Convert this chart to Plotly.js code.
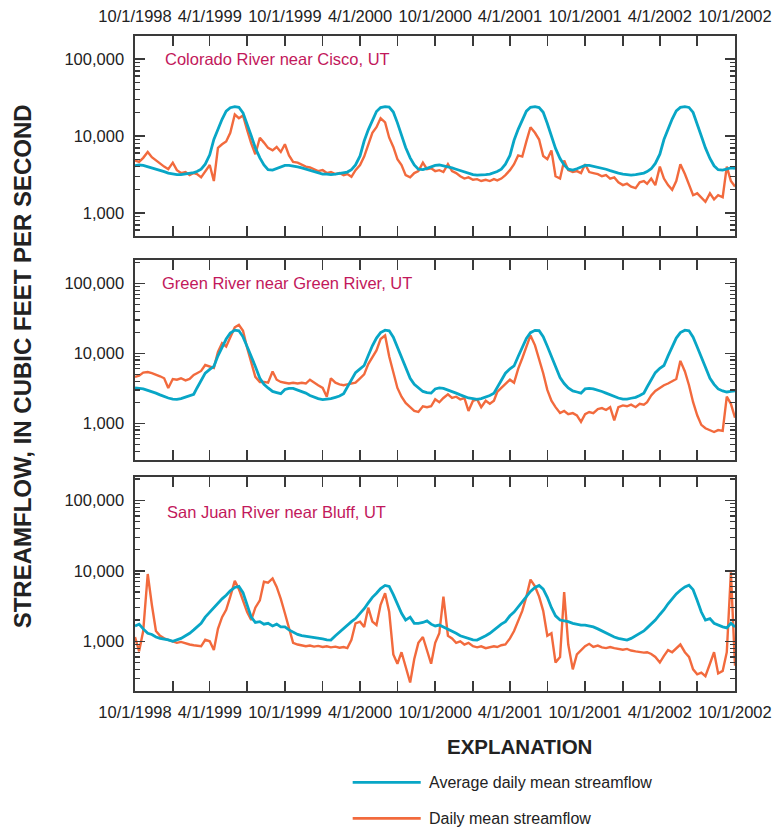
<!DOCTYPE html>
<html>
<head>
<meta charset="utf-8">
<script src="https://cdn.plot.ly/plotly-3.0.1.min.js"></script>
<style>
  html, body { margin: 0; padding: 0; background: #ffffff; }
  #chart { width: 774px; height: 827px; }
</style>
</head>
<body>
<div id="chart"></div>
<script>
// ---- Station names ----
const stationNames = [
  'Colorado River near Cisco, UT',
  'Green River near Green River, UT',
  'San Juan River near Bluff, UT'
];
const seriesNames = ['Average daily mean streamflow', 'Daily mean streamflow'];

// ---- Sample dates: 1st, 11th and 21st of each month, 10/1/1998 to 10/1/2002 ----
const sampleDays = [1, 11, 21];
const startYear = 1998, startMonth = 10, nMonths = 48;

// ---- Axis tick labels ----
const xTickDates = ['1998-10-01','1999-01-01','1999-04-01','1999-07-01','1999-10-01','2000-01-01','2000-04-01','2000-07-01',
  '2000-10-01','2001-01-01','2001-04-01','2001-07-01','2001-10-01','2002-01-01','2002-04-01','2002-07-01','2002-10-01'];
const xTickLabels = ['10/1/1998','','4/1/1999','','10/1/1999','','4/1/2000','','10/1/2000','','4/1/2001','','10/1/2001','','4/1/2002','','10/1/2002'];
const yTickValues = [1000, 10000, 100000];
const yTickLabels = ['1,000', '10,000', '100,000'];

// ---- Colorado River near Cisco (cubic feet per second) ----
const coloradoAverage = [
  4100,4200,4150,4000,3900,3750,3600,3450,3300,3200,3150,3150,3200,3250,3350,3450,3700,4300,5700,9000,12500,16500,21000,23300,24000,23600,20000,14600,10100,7000,5200,4200,3650,3600,3750,3950,
  4150,4150,4100,3980,3850,3700,3550,3400,3300,3200,3200,3150,3200,3250,3300,3400,3650,4200,5500,8600,12000,16200,20800,23400,24000,23700,20500,14800,10200,7100,5200,4200,3700,3650,3800,4000,
  4150,4200,4100,3950,3850,3700,3550,3400,3250,3150,3100,3100,3150,3200,3300,3450,3700,4300,5600,8800,12200,16300,21000,23600,24000,23400,20300,14500,9900,6900,5100,4200,3700,3600,3750,3950,
  4150,4150,4050,3950,3850,3700,3550,3400,3300,3200,3150,3100,3150,3200,3300,3450,3750,4400,5800,9000,12500,16600,21200,23500,24000,23500,20200,14600,10000,7000,5100,4100,3650,3600,3700,3850,
  3800
];
const coloradoDaily = [
  4800,4600,5200,6200,5300,4800,4300,4000,3700,4500,3600,3300,3400,3100,3300,3200,2900,3500,4200,2600,7000,7800,8500,11000,19000,17000,18500,12000,8000,5800,9500,8200,7000,6500,7200,6200,
  7800,5600,4600,4500,4200,4000,3900,3700,3500,3600,3300,3400,3200,3300,3100,3200,2950,3600,4200,5400,7500,11000,13000,17000,15000,9500,7200,5000,4200,3100,2900,3300,3500,4500,3700,3800,
  3500,3600,3400,4300,3500,3300,3000,2800,2900,2700,2750,2600,2700,2600,2750,2650,2800,3100,3600,4300,5600,5400,8500,13000,11000,9000,5500,5000,6500,3000,2800,4800,3600,3400,3500,3300,
  4300,3400,3300,3200,3000,3100,2800,2900,2500,2300,2400,2200,2100,2500,2600,2400,2800,2300,4000,2800,2300,2000,2600,4300,3200,2400,1700,1800,1600,1400,1800,1500,1700,1600,4000,2600,
  2200
];

// ---- Green River near Green River ----
const greenAverage = [
  3200,3150,3100,2950,2850,2700,2550,2400,2300,2220,2200,2250,2350,2450,2600,3200,4000,5200,5900,6500,9200,12500,16000,19500,21400,21000,17200,12500,9200,6500,4400,3600,3200,2850,2750,2650,
  3050,3150,3150,3000,2850,2700,2500,2350,2250,2180,2200,2250,2350,2450,2650,3300,4100,5300,6000,6700,9300,12800,16500,19800,21400,21000,17000,12300,9000,6400,4400,3600,3200,2850,2750,2700,
  3100,3200,3150,3000,2850,2700,2550,2400,2300,2250,2200,2250,2350,2500,2700,3300,4100,5200,6000,6600,9000,12500,16300,19700,21300,21100,17300,12600,9300,6500,4500,3700,3200,2900,2800,2700,
  3100,3150,3100,3000,2850,2700,2550,2400,2300,2220,2220,2280,2350,2500,2700,3300,4200,5300,6100,6700,9200,12700,16500,19800,21400,21000,17000,12300,9000,6300,4400,3600,3100,2900,2800,2850,
  2900
];
const greenDaily = [
  4600,4800,5300,5400,5200,5000,4700,4400,3200,4300,4200,4400,4100,4300,4900,5200,5600,6800,6500,6200,10500,14000,12500,17000,23500,25500,21000,12000,7500,4600,3900,3900,3800,5500,4200,3900,
  3800,3700,3800,3700,3800,3700,4200,3800,3500,3200,2400,4400,3800,3600,3500,3600,3700,3800,4400,5000,7000,9000,11000,16000,18000,9000,5200,3200,2400,1950,1700,1500,1450,1750,1700,1750,
  2200,2000,2300,2600,2300,2400,2200,2300,1500,2100,2200,1700,2100,1900,2100,2800,3200,3600,4200,3800,6000,8500,12500,18000,13000,8500,5200,3000,2100,1700,1400,1500,1350,1400,1300,1050,
  1350,1450,1400,1600,1650,1550,1700,1100,1700,1800,1750,1850,1700,1900,1850,2000,2500,2900,3200,3500,3700,4000,4300,7800,5500,3500,2000,1300,950,850,800,750,800,780,2400,1900,
  1200
];

// ---- San Juan River near Bluff ----
const sanJuanAverage = [
  1650,1750,1500,1300,1250,1150,1100,1080,1050,1000,1050,1100,1200,1300,1450,1600,1800,2200,2600,2950,3400,4000,4500,5200,5800,6000,4900,3300,2200,1850,1900,1750,1800,1650,1750,1600,
  1600,1450,1350,1250,1200,1180,1150,1120,1100,1080,1050,1040,1200,1350,1550,1700,1900,2100,2450,2900,3500,4200,4800,5600,6200,6000,4600,3300,2500,2000,2200,1800,1800,1850,1950,1750,
  1650,1700,1600,1500,1400,1300,1200,1150,1100,1050,1040,1100,1200,1300,1450,1550,1750,1900,2300,2600,3100,3700,4300,5100,5800,6200,5500,4200,3000,2300,2000,1950,1900,1800,1750,1700,
  1700,1650,1600,1500,1400,1300,1200,1150,1100,1060,1040,1100,1200,1280,1400,1550,1750,2000,2400,2800,3400,4000,4700,5300,5900,6250,5400,3800,2600,2000,2100,1800,1700,1600,1550,1800,
  1600
];
const sanJuanDaily = [
  1150,720,1400,9000,3300,1400,1200,1100,1050,1000,950,980,930,900,880,860,850,1050,1000,750,1500,2200,2800,4300,7200,5500,3800,2600,2000,3000,3800,7000,6800,7800,5900,4000,
  2500,1500,950,900,880,850,870,840,860,830,850,820,840,810,830,800,1050,1800,1900,1600,3000,1900,1700,3300,4800,2600,650,480,700,420,260,560,950,1150,750,480,
  950,1300,4300,1200,1100,950,1000,900,950,850,820,850,800,820,850,830,880,900,1100,1400,1900,2700,4300,7500,6000,4300,2700,1200,1300,500,600,5000,900,400,650,750,
  850,920,830,870,820,800,830,800,780,760,780,740,720,700,690,700,660,600,500,620,750,700,800,900,700,600,400,340,360,320,480,700,350,380,700,9500,
  450
];

// ---- Build the date axis for the samples ----
function pad(n) { return (n < 10 ? '0' : '') + n; }
const sampleDates = [];
for (let i = 0; i < nMonths; i++) {
  const mIdx = startMonth - 1 + i;
  const yr = startYear + Math.floor(mIdx / 12);
  const mo = (mIdx % 12) + 1;
  sampleDays.forEach(d => sampleDates.push(yr + '-' + pad(mo) + '-' + pad(d)));
}
sampleDates.push('2002-10-01');

// ---- Styling ----
const BLUE = '#08a6c6';
const ORANGE = '#f26a3d';
const AXIS = '#3a3a3a';
const FONT = 'Liberation Sans, Arial, Helvetica, sans-serif';
const TITLE_COLOR = '#c2185b';

const minorTicks = [];
[100, 1000, 10000, 100000].forEach(base => {
  for (let k = 2; k <= 9; k++) minorTicks.push(base * k);
});

const panels = [
  { avg: coloradoAverage, daily: coloradoDaily, domain: [0.6947, 1.0], range: [2.7013, 5.2987] },
  { avg: greenAverage, daily: greenDaily, domain: [0.3527, 0.6580], range: [2.476, 5.333] },
  { avg: sanJuanAverage, daily: sanJuanDaily, domain: [0.0, 0.3267], range: [2.295, 5.330] }
];

const traces = [];
panels.forEach((p, i) => {
  const xa = i === 0 ? 'x' : 'x' + (i + 1);
  const ya = i === 0 ? 'y' : 'y' + (i + 1);
  traces.push({
    x: sampleDates, y: p.daily, type: 'scatter', mode: 'lines', name: seriesNames[1],
    xaxis: xa, yaxis: ya, showlegend: false, line: { color: ORANGE, width: 2.4 }
  });
  traces.push({
    x: sampleDates, y: p.avg, type: 'scatter', mode: 'lines', name: seriesNames[0],
    xaxis: xa, yaxis: ya, showlegend: false, line: { color: BLUE, width: 2.8 }
  });
});

const layout = {
  width: 774, height: 827,
  margin: { l: 135, r: 39, t: 36, b: 136 },
  paper_bgcolor: '#ffffff', plot_bgcolor: '#ffffff',
  font: { family: FONT, size: 16, color: '#222' },
  showlegend: false,
  annotations: [],
  shapes: []
};

panels.forEach((p, i) => {
  const sfx = i === 0 ? '' : String(i + 1);
  layout['xaxis' + sfx] = {
    domain: [0, 1], anchor: 'y' + sfx, type: 'date',
    range: ['1998-10-01', '2002-10-01'],
    tickmode: 'array', tickvals: xTickDates,
    ticktext: i === 1 ? xTickDates.map(() => '') : xTickLabels,
    side: i === 0 ? 'top' : 'bottom',
    ticks: 'inside', ticklen: 10, tickwidth: 1.5, tickcolor: AXIS,
    showline: true, linecolor: AXIS, linewidth: 1.6, mirror: 'ticks',
    showgrid: false, zeroline: false, fixedrange: true,
    tickfont: { family: FONT, size: 16.5, color: '#222' },
    ticklabelstandoff: 6
  };
  if (i > 0) layout['xaxis' + sfx].matches = 'x';
  layout['yaxis' + sfx] = {
    domain: p.domain, anchor: 'x' + sfx, type: 'log', range: p.range,
    tickmode: 'array', tickvals: yTickValues, ticktext: yTickLabels,
    ticks: 'inside', ticklen: 10, tickwidth: 1.5, tickcolor: AXIS,
    minor: { tickmode: 'array', tickvals: minorTicks, ticks: 'inside', ticklen: 5, tickwidth: 1.2, tickcolor: AXIS, showgrid: false },
    showline: true, linecolor: AXIS, linewidth: 1.6, mirror: 'ticks',
    showgrid: false, zeroline: false, fixedrange: true,
    tickfont: { family: FONT, size: 16.5, color: '#222' },
    ticklabelstandoff: 6
  };
  layout.annotations.push({
    text: stationNames[i], xref: (i === 0 ? 'x' : 'x' + (i + 1)) + ' domain', yref: (i === 0 ? 'y' : 'y' + (i + 1)) + ' domain',
    x: [0.046, 0.041, 0.050][i], y: [0.885, 0.885, 0.836][i], xanchor: 'left', yanchor: 'middle',
    showarrow: false, font: { family: FONT, size: 16.5, color: TITLE_COLOR }
  });
});

// Y axis title
layout.annotations.push({
  text: '<b>STREAMFLOW, IN CUBIC FEET PER SECOND</b>', textangle: -90,
  xref: 'paper', yref: 'paper', x: -0.188, y: 0.496, xanchor: 'center', yanchor: 'middle',
  showarrow: false, font: { family: FONT, size: 24, color: '#222' }
});

// Explanation (legend)
layout.annotations.push({
  text: '<b>EXPLANATION</b>', xref: 'paper', yref: 'paper', x: 0.64, y: -0.084,
  xanchor: 'center', yanchor: 'middle', showarrow: false,
  font: { family: FONT, size: 20.5, color: '#222' }
});
const legendRows = [
  { name: seriesNames[0], color: BLUE, y: -0.1394, w: 2.8 },
  { name: seriesNames[1], color: ORANGE, y: -0.1944, w: 2.8 }
];
legendRows.forEach(r => {
  layout.shapes.push({
    type: 'line', xref: 'paper', yref: 'paper', x0: 0.3628, x1: 0.4762, y0: r.y, y1: r.y,
    line: { color: r.color, width: r.w }
  });
  layout.annotations.push({
    text: r.name, xref: 'paper', yref: 'paper', x: 0.486, y: r.y,
    xanchor: 'left', yanchor: 'middle', showarrow: false,
    font: { family: FONT, size: 16, color: '#222' }
  });
});

Plotly.newPlot('chart', traces, layout, { displayModeBar: false, staticPlot: true });
</script>
</body>
</html>
